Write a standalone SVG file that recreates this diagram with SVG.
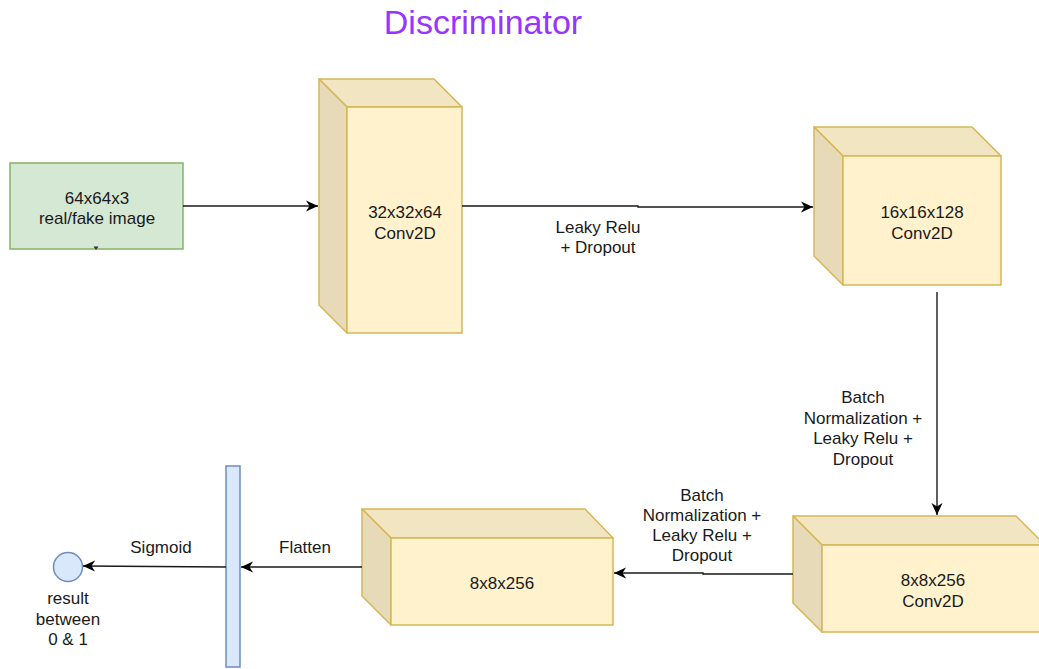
<svg xmlns="http://www.w3.org/2000/svg" width="1039" height="669" viewBox="0 0 1039 669">
  <style>
    text { font-family: "Liberation Sans", Arial, sans-serif; font-size: 17px; fill: #1a1a1a; text-anchor: middle; }
    .title { font-size: 34px; fill: #9933ff; }
    .top { fill: #f2e6c2; stroke: #d6b656; stroke-width: 1.5; stroke-linejoin: round; }
    .side { fill: #e6dab8; stroke: #d6b656; stroke-width: 1.5; stroke-linejoin: round; }
    .front { fill: #fff2cc; stroke: #d6b656; stroke-width: 1.5; }
    .edge { fill: none; stroke: #1a1a1a; stroke-width: 1.4; marker-end: url(#arrow); }
  </style>
  <defs>
    <marker id="arrow" markerUnits="userSpaceOnUse" markerWidth="14" markerHeight="12" refX="12" refY="6" orient="auto">
      <path d="M0,0.5 L12,6 L0,11.5 L3.5,6 Z" fill="#000"/>
    </marker>
  </defs>

  <rect width="1039" height="669" fill="#ffffff"/>

  <text class="title" x="483" y="34">Discriminator</text>

  <!-- input image -->
  <g id="input">
    <rect x="10" y="163" width="173" height="86" fill="#d5e8d4" stroke="#82b366" stroke-width="1.5"/>
    <path d="M93.5,246.5 L98.5,246.5 L96,250 Z" fill="#333"/>
    <text x="97" y="204">64x64x3</text>
    <text x="97" y="224">real/fake image</text>
  </g>

  <!-- conv 32x32x64 -->
  <g id="conv1">
    <polygon class="top" points="319,79 434,79 462,107 347,107"/>
    <polygon class="side" points="319,79 347,107 347,333 319,305"/>
    <rect class="front" x="347" y="107" width="115" height="226"/>
    <text x="405" y="218">32x32x64</text>
    <text x="405" y="239">Conv2D</text>
  </g>

  <!-- conv 16x16x128 -->
  <g id="conv2">
    <polygon class="top" points="814,127 972,127 1001,156 843,156"/>
    <polygon class="side" points="814,127 843,156 843,285 814,256"/>
    <rect class="front" x="843" y="156" width="158" height="129"/>
    <text x="922" y="218">16x16x128</text>
    <text x="922" y="239">Conv2D</text>
  </g>

  <!-- conv 8x8x256 -->
  <g id="conv3">
    <polygon class="top" points="793,516 1016,516 1045,545 822,545"/>
    <polygon class="side" points="793,516 822,545 822,632 793,603"/>
    <rect class="front" x="822" y="545" width="223" height="87"/>
    <text x="933" y="586">8x8x256</text>
    <text x="933" y="607">Conv2D</text>
  </g>

  <!-- feature map 8x8x256 -->
  <g id="features">
    <polygon class="top" points="362,509 585,509 613,538 391,538"/>
    <polygon class="side" points="362,509 391,538 391,625 362,596"/>
    <rect class="front" x="391" y="538" width="222" height="87"/>
    <text x="502" y="589">8x8x256</text>
  </g>

  <!-- flattened vector -->
  <g id="flatten">
    <rect x="226" y="466" width="14" height="201" fill="#dae8fc" stroke="#6c8ebf" stroke-width="1.5"/>
  </g>

  <!-- output -->
  <g id="output">
    <circle cx="68" cy="567" r="14.5" fill="#dae8fc" stroke="#6c8ebf" stroke-width="1.5"/>
    <text x="68" y="604">result</text>
    <text x="68" y="625">between</text>
    <text x="68" y="645">0 &amp; 1</text>
  </g>

  <g id="connectors">
    <path class="edge" d="M183,206 L318,206"/>
    <path class="edge" d="M462,206 L638,206 L638,207 L813,207"/>
    <path class="edge" d="M937,292 L937,515"/>
    <path class="edge" d="M793,574 L703,574 L703,573 L614,573"/>
    <path class="edge" d="M362,567 L241,567"/>
    <path class="edge" d="M226,567 L83,566"/>

    <text x="598" y="233">Leaky Relu</text>
    <text x="598" y="253">+ Dropout</text>

    <text x="863" y="403">Batch</text>
    <text x="863" y="424">Normalization +</text>
    <text x="863" y="444">Leaky Relu +</text>
    <text x="863" y="465">Dropout</text>

    <text x="702" y="501">Batch</text>
    <text x="702" y="521">Normalization +</text>
    <text x="702" y="541">Leaky Relu +</text>
    <text x="702" y="561">Dropout</text>

    <text x="305" y="553">Flatten</text>
    <text x="161" y="553">Sigmoid</text>
  </g>
</svg>
